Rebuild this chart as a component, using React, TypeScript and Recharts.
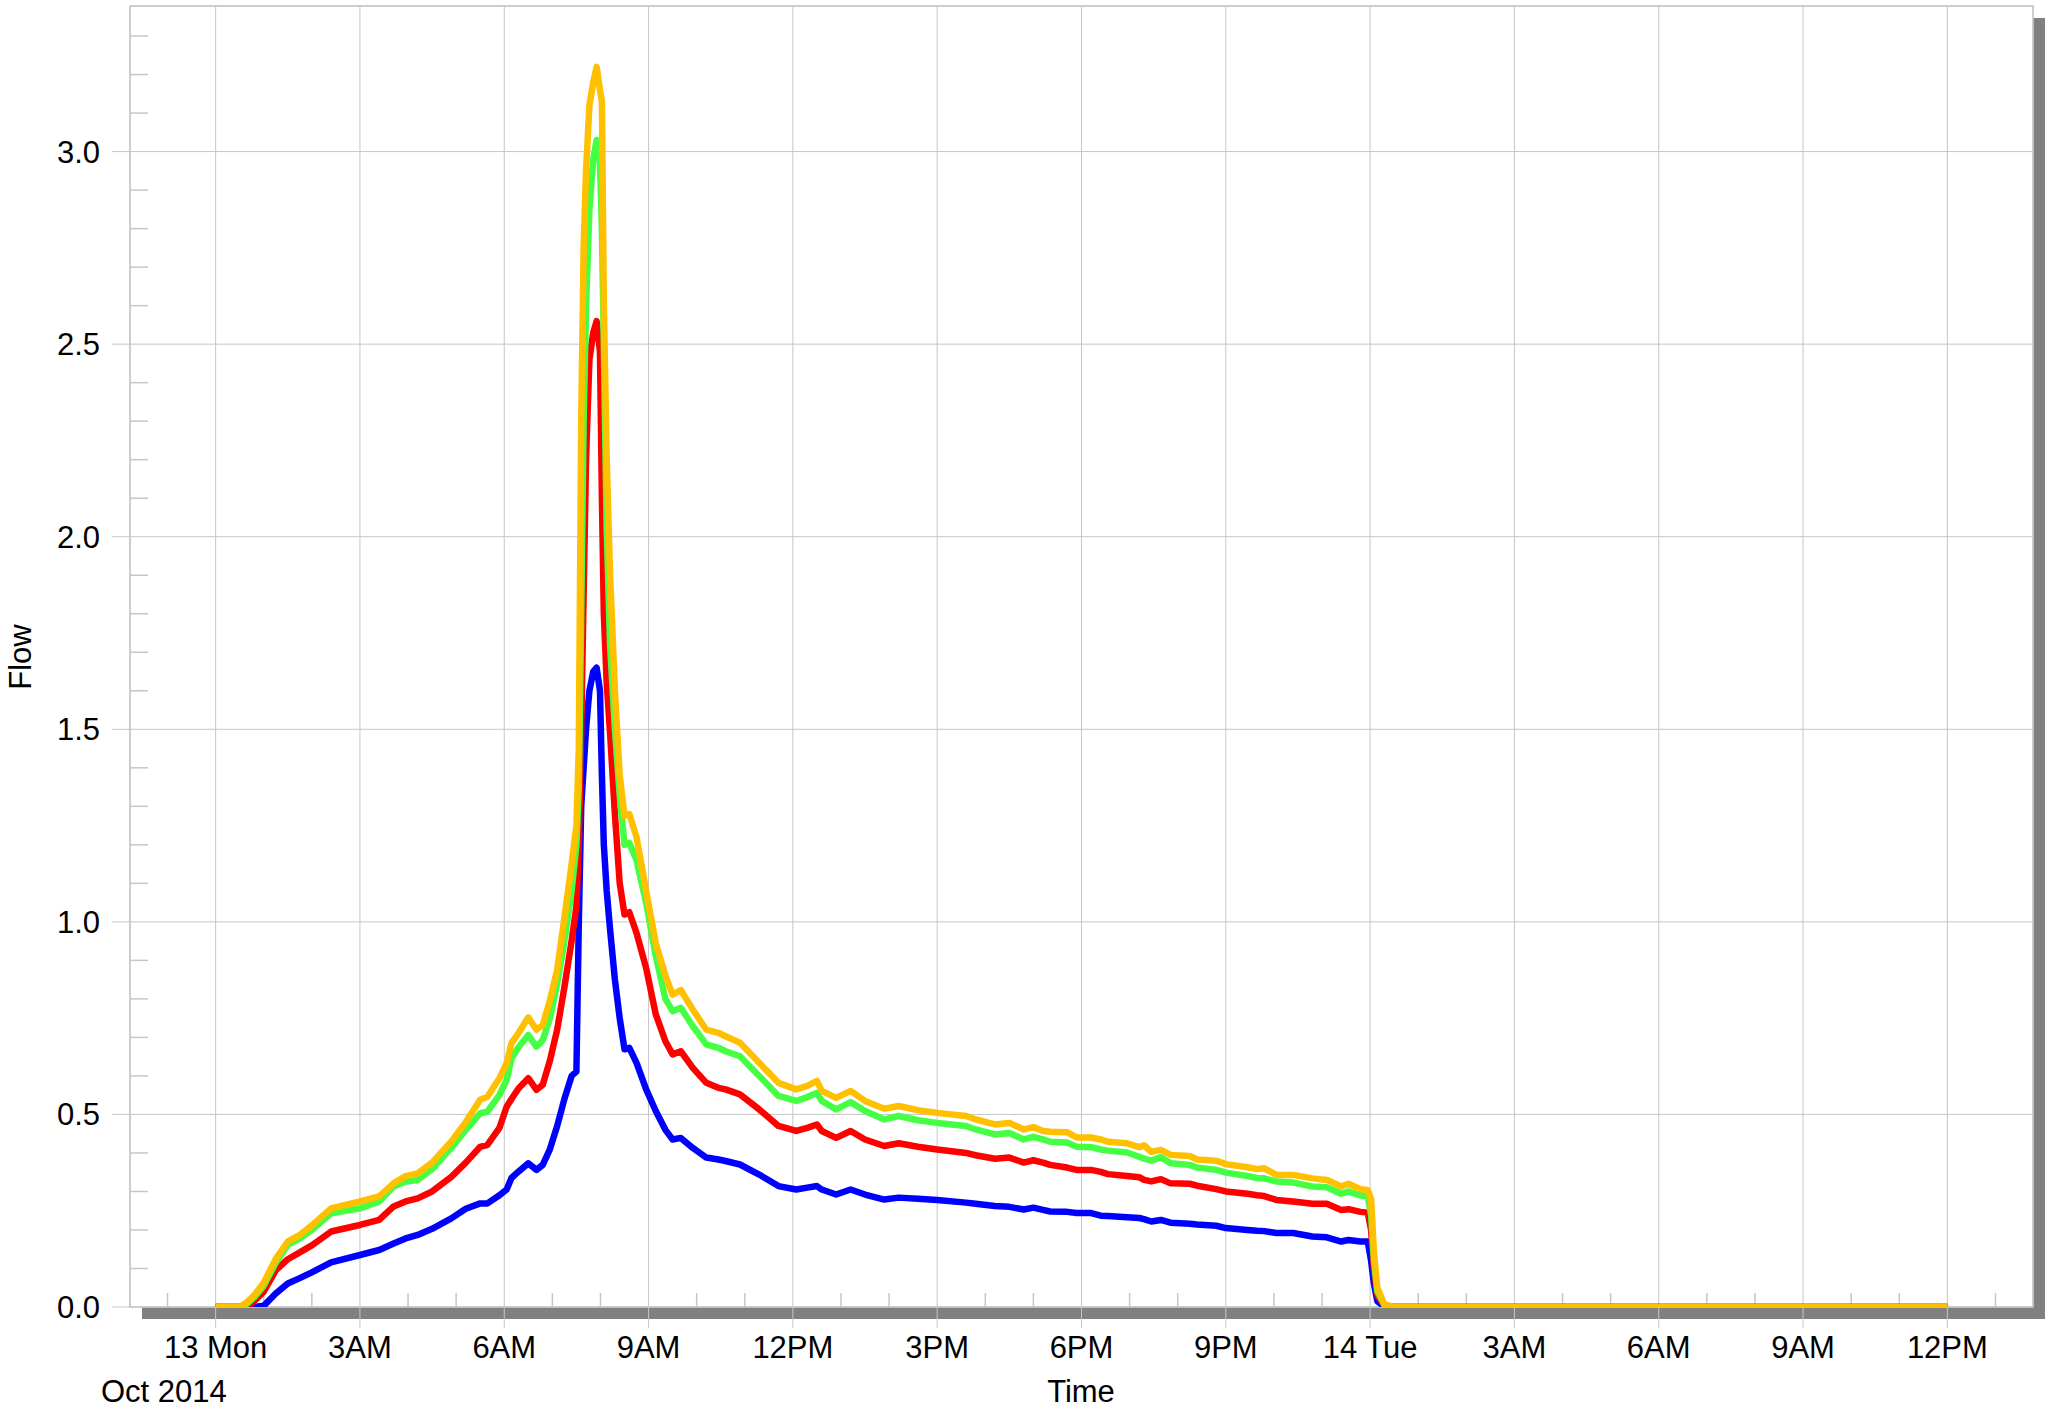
import React from 'react';
import { LineChart, Line, XAxis, YAxis, CartesianGrid, ReferenceArea, ReferenceLine } from 'recharts';

// time in hours since 13 Oct 2014 00:00
const hours = [
  0, 0.5, 0.65, 0.8, 1.0, 1.25, 1.5, 1.75, 2.0, 2.4,
  3.0, 3.4, 3.7, 3.95, 4.2, 4.5, 4.9, 5.2, 5.5, 5.65,
  5.9, 6.05, 6.15, 6.3, 6.5, 6.67, 6.8, 6.95, 7.1, 7.25,
  7.4, 7.5, 7.55, 7.6, 7.65, 7.7, 7.77, 7.85, 7.92, 7.99,
  8.03, 8.07, 8.13, 8.2, 8.3, 8.4, 8.5, 8.6, 8.75, 8.95,
  9.15, 9.35, 9.5, 9.67, 9.92, 10.2, 10.45, 10.6, 10.9, 11.3,
  11.7, 12.07, 12.3, 12.5, 12.6, 12.9, 13.2, 13.5, 13.9, 14.2,
  14.6, 15.0, 15.6, 15.8, 16.2, 16.5, 16.8, 17.0, 17.2, 17.35,
  17.7, 17.9, 18.2, 18.4, 18.55, 18.95, 19.2, 19.3, 19.45, 19.65,
  19.85, 20.25, 20.4, 20.8, 21.0, 21.45, 21.65, 21.8, 22.05, 22.4,
  22.8, 23.1, 23.4, 23.55, 23.8, 23.95, 24.02, 24.08, 24.15, 24.3,
  24.5, 36,
];

const orangeFlow = [
  0, 0, 0.012, 0.03, 0.063, 0.125, 0.17, 0.187, 0.212, 0.256,
  0.274, 0.287, 0.321, 0.34, 0.347, 0.375, 0.43, 0.48, 0.538, 0.546,
  0.594, 0.633, 0.685, 0.712, 0.752, 0.72, 0.732, 0.797, 0.875, 1.01,
  1.15, 1.25, 1.45, 2.3, 2.75, 2.95, 3.12, 3.18, 3.22, 3.16,
  3.13, 2.6, 2.2, 1.9, 1.6, 1.38, 1.275, 1.28, 1.22, 1.08,
  0.945, 0.86, 0.811, 0.823, 0.772, 0.72, 0.712, 0.703, 0.686, 0.634,
  0.582, 0.565, 0.574, 0.587, 0.561, 0.543, 0.561, 0.535, 0.515, 0.522,
  0.511, 0.504, 0.496, 0.487, 0.474, 0.478, 0.461, 0.467, 0.457, 0.455,
  0.454, 0.44, 0.44, 0.435, 0.429, 0.425, 0.415, 0.42, 0.403, 0.408,
  0.395, 0.392, 0.383, 0.38, 0.371, 0.363, 0.358, 0.36, 0.343, 0.343,
  0.334, 0.33, 0.313, 0.32, 0.306, 0.304, 0.28, 0.14, 0.05, 0.006,
  0, 0,
];

const greenFlow = [
  0, 0, 0.008, 0.025, 0.055, 0.115, 0.161, 0.178, 0.2, 0.243,
  0.256, 0.274, 0.313, 0.326, 0.33, 0.358, 0.413, 0.46, 0.503, 0.507,
  0.551, 0.59, 0.645, 0.675, 0.706, 0.676, 0.693, 0.75, 0.84, 0.95,
  1.08, 1.2, 1.35, 1.8, 2.3, 2.6, 2.85, 2.98, 3.03, 2.97,
  2.8, 2.5, 2.02, 1.72, 1.5, 1.33, 1.2, 1.205, 1.16, 1.049,
  0.911, 0.8, 0.768, 0.777, 0.729, 0.682, 0.673, 0.664, 0.651, 0.6,
  0.548, 0.535, 0.545, 0.556, 0.535, 0.513, 0.532, 0.509, 0.487, 0.496,
  0.485, 0.478, 0.47, 0.461, 0.448, 0.452, 0.435, 0.442, 0.435, 0.429,
  0.427, 0.416, 0.415, 0.409, 0.406, 0.401, 0.39, 0.385, 0.38, 0.389,
  0.373, 0.369, 0.362, 0.356, 0.349, 0.34, 0.335, 0.334, 0.326, 0.323,
  0.313, 0.311, 0.294, 0.3, 0.29, 0.287, 0.24, 0.12, 0.04, 0.004,
  0, 0,
];

const redFlow = [
  0, 0, 0, 0.015, 0.04, 0.095, 0.124, 0.142, 0.16, 0.196,
  0.213, 0.226, 0.261, 0.274, 0.282, 0.3, 0.338, 0.375, 0.416, 0.421,
  0.465, 0.52, 0.54, 0.568, 0.594, 0.564, 0.577, 0.64, 0.72, 0.83,
  0.95, 1.04, 1.2, 1.5, 1.85, 2.2, 2.46, 2.53, 2.56, 2.48,
  2.1, 1.8, 1.62, 1.49, 1.28, 1.1, 1.019, 1.025, 0.971, 0.88,
  0.76, 0.69, 0.656, 0.664, 0.621, 0.582, 0.569, 0.565, 0.552, 0.513,
  0.47, 0.457, 0.465, 0.474, 0.457, 0.439, 0.457, 0.435, 0.418, 0.425,
  0.416, 0.409, 0.4, 0.394, 0.385, 0.388, 0.375, 0.381, 0.375, 0.369,
  0.362, 0.356, 0.356, 0.351, 0.345, 0.34, 0.337, 0.33, 0.326, 0.332,
  0.321, 0.32, 0.315, 0.306, 0.3, 0.294, 0.29, 0.288, 0.278, 0.274,
  0.268, 0.268, 0.252, 0.254, 0.247, 0.245, 0.2, 0.1, 0.03, 0.003,
  0, 0,
];

const blueFlow = [
  0, 0, 0, 0, 0.003, 0.035, 0.061, 0.075, 0.09, 0.116,
  0.135, 0.148, 0.165, 0.178, 0.187, 0.203, 0.23, 0.255, 0.269, 0.269,
  0.29, 0.305, 0.335, 0.352, 0.373, 0.356, 0.369, 0.41, 0.47, 0.54,
  0.6, 0.611, 1.0, 1.3, 1.4, 1.5, 1.6, 1.65, 1.66, 1.6,
  1.38, 1.2, 1.08, 0.98, 0.85, 0.75, 0.669, 0.673, 0.634, 0.565,
  0.509, 0.46, 0.435, 0.439, 0.413, 0.388, 0.383, 0.379, 0.37, 0.344,
  0.314, 0.305, 0.31, 0.314, 0.305, 0.292, 0.305, 0.292, 0.279, 0.284,
  0.281, 0.278, 0.271, 0.268, 0.262, 0.26, 0.253, 0.258, 0.252, 0.248,
  0.247, 0.244, 0.244, 0.237, 0.236, 0.233, 0.231, 0.228, 0.222, 0.226,
  0.219, 0.216, 0.214, 0.211, 0.205, 0.2, 0.198, 0.197, 0.192, 0.192,
  0.183, 0.181, 0.17, 0.174, 0.17, 0.17, 0.12, 0.06, 0.015, 0,
  0, 0,
];

const xTickValues = [0, 3, 6, 9, 12, 15, 18, 21, 24, 27, 30, 33, 36];
const xTickLabels = ['13 Mon', '3AM', '6AM', '9AM', '12PM', '3PM', '6PM', '9PM', '14 Tue', '3AM', '6AM', '9AM', '12PM'];
const yTickValues = [0, 0.5, 1.0, 1.5, 2.0, 2.5, 3.0];
// hourly minor ticks (those not on a major tick)
const xMinorTicks = [-1, 1, 2, 4, 5, 7, 8, 10, 11, 13, 14, 16, 17, 19, 20, 22, 23, 25, 26, 28, 29, 31, 32, 34, 35, 37];
// minor ticks every 0.1 (those not on a major tick)
const yMinorTicks = [0.1, 0.2, 0.3, 0.4, 0.6, 0.7, 0.8, 0.9, 1.1, 1.2, 1.3, 1.4, 1.6, 1.7, 1.8, 1.9, 2.1, 2.2, 2.3, 2.4, 2.6, 2.7, 2.8, 2.9, 3.1, 3.2, 3.3];

const X_DOMAIN: [number, number] = [-1.78, 37.78];
const Y_DOMAIN: [number, number] = [0, 3.378];
// minor tick lengths expressed in axis units (≈14px vertical, ≈18px horizontal)
const X_MINOR_LEN = 0.0364;
const Y_MINOR_LEN = 0.374;

const data = hours.map((h, i) => ({
  h,
  blue: blueFlow[i],
  red: redFlow[i],
  green: greenFlow[i],
  orange: orangeFlow[i],
}));

const FONT = "'Liberation Sans', Arial, sans-serif";
const GRID = '#c6c6c6';
const LW = 6.5;

export default function App() {
  return (
    <div style={{ position: 'absolute', left: 0, top: 0, width: 2049, height: 1411, fontFamily: FONT }}>
      <div style={{ position: 'absolute', left: 142, top: 18, width: 1903, height: 1301, background: '#808080' }} />
      <div style={{ position: 'absolute', left: 0, top: 0 }}>
        <LineChart width={2049} height={1411} data={data} margin={{ top: 6, right: 16, bottom: 0, left: 0 }}>
          <CartesianGrid stroke={GRID} strokeWidth={1} fill="#ffffff" fillOpacity={1} />
          <XAxis
            dataKey="h"
            type="number"
            domain={X_DOMAIN}
            allowDataOverflow
            ticks={xTickValues}
            interval={0}
            height={104}
            tickSize={21}
            tickMargin={8}
            axisLine={false}
            tickLine={{ stroke: GRID }}
            tick={{ fontSize: 31, fill: '#000', fontFamily: FONT }}
            tickFormatter={(v: number) => xTickLabels[xTickValues.indexOf(v)] ?? ''}
          />
          <YAxis
            type="number"
            domain={Y_DOMAIN}
            allowDataOverflow
            ticks={yTickValues}
            interval={0}
            width={130}
            tickSize={18}
            tickMargin={12}
            axisLine={false}
            tickLine={{ stroke: GRID }}
            tick={{ fontSize: 31, fill: '#000', fontFamily: FONT }}
            tickFormatter={(v: number) => v.toFixed(1)}
          />
          <ReferenceArea
            x1={X_DOMAIN[0]}
            x2={X_DOMAIN[1]}
            y1={Y_DOMAIN[0]}
            y2={Y_DOMAIN[1]}
            ifOverflow="visible"
            fill="none"
            fillOpacity={0}
            stroke={GRID}
            strokeWidth={1.5}
          />
          {xMinorTicks.map((t) => (
            <ReferenceLine
              key={'xm' + t}
              segment={[{ x: t, y: 0 }, { x: t, y: X_MINOR_LEN }]}
              stroke={GRID}
              strokeWidth={1.5}
              ifOverflow="visible"
            />
          ))}
          {yMinorTicks.map((t) => (
            <ReferenceLine
              key={'ym' + t}
              segment={[{ x: X_DOMAIN[0], y: t }, { x: X_DOMAIN[0] + Y_MINOR_LEN, y: t }]}
              stroke={GRID}
              strokeWidth={1.5}
              ifOverflow="visible"
            />
          ))}
          <Line type="linear" dataKey="blue" stroke="#0000ff" strokeWidth={LW} dot={false} activeDot={false} isAnimationActive={false} strokeLinejoin="round" />
          <Line type="linear" dataKey="red" stroke="#ff0000" strokeWidth={LW} dot={false} activeDot={false} isAnimationActive={false} strokeLinejoin="round" />
          <Line type="linear" dataKey="green" stroke="#44ff44" strokeWidth={LW} dot={false} activeDot={false} isAnimationActive={false} strokeLinejoin="round" />
          <Line type="linear" dataKey="orange" stroke="#ffc000" strokeWidth={LW} dot={false} activeDot={false} isAnimationActive={false} strokeLinejoin="round" />
        </LineChart>
      </div>
      <svg width={2049} height={1411} style={{ position: 'absolute', left: 0, top: 0, pointerEvents: 'none' }}>
        <text x={0} y={0} transform="translate(31,657) rotate(-90)" textAnchor="middle" fontSize={31} fontFamily={FONT} fill="#000">Flow</text>
        <text x={1081} y={1402} textAnchor="middle" fontSize={31} fontFamily={FONT} fill="#000">Time</text>
        <text x={101} y={1402} textAnchor="start" fontSize={31} fontFamily={FONT} fill="#000">Oct 2014</text>
      </svg>
    </div>
  );
}
